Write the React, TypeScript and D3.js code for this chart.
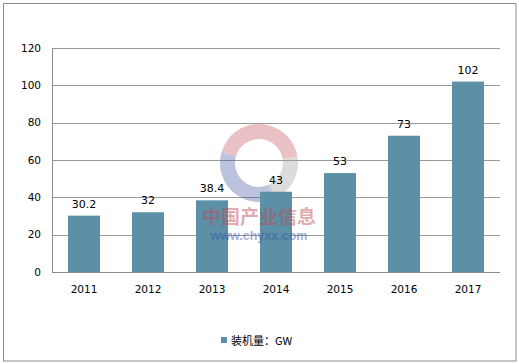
import React from "react";
import * as d3 from "d3";

const years = ["2011", "2012", "2013", "2014", "2015", "2016", "2017"];
const capacity = [30.2, 32, 38.4, 43, 53, 73, 102];
const valueLabels = ["30.2", "32", "38.4", "43", "53", "73", "102"];
const yTicks = [0, 20, 40, 60, 80, 100, 120];
const legendLabel = "装机量：GW";

const W = 519;
const H = 364;
const plot = { left: 52, right: 500, top: 48, bottom: 272 };
const barColor = "#5B90A6";
const font = "'DejaVu Sans', Verdana, sans-serif";

export default function App() {
  const x = d3.scaleBand().domain(years).range([plot.left, plot.right]).paddingInner(0.5).paddingOuter(0.25);
  const y = d3.scaleLinear().domain([0, 120]).range([plot.bottom, plot.top]);
  const ringArc = d3.arc();
  const cx = 259, cy = 163;
  return (
    <svg width={W} height={H} style={{ position: "absolute", left: 0, top: 0 }}>
      <rect x={0} y={0} width={W} height={H} fill="#fff" />
      <rect x={3.5} y={3.5} width={512.5} height={357.5} fill="none" stroke="#8c8c8c" strokeWidth={1} />
      {yTicks.map((t) => (
        <g key={t}>
          {t > 0 && (
            <line x1={plot.left} x2={plot.right} y1={Math.round(y(t)) + 0.5} y2={Math.round(y(t)) + 0.5} stroke="#9a9a9a" strokeWidth={1} />
          )}
          <text x={41} y={y(t)} dy="0.35em" textAnchor="end" fontFamily={font} fontSize={10.5} fill="#000">
            {t}
          </text>
        </g>
      ))}
      {/* watermark */}
      <g opacity={0.45}>
        <path d={ringArc({ innerRadius: 24, outerRadius: 39, startAngle: -1.3, endAngle: 1.4 }) as string} transform={`translate(${cx},${cy})`} fill="#c0464f" opacity={0.75} />
        <path d={ringArc({ innerRadius: 24, outerRadius: 39, startAngle: -3.6, endAngle: -1.3 }) as string} transform={`translate(${cx},${cy})`} fill="#3a4fa0" opacity={0.75} />
        <path d={ringArc({ innerRadius: 24, outerRadius: 39, startAngle: 1.4, endAngle: 2.8 }) as string} transform={`translate(${cx},${cy})`} fill="#9a9a9a" opacity={0.75} />
      </g>
      {years.map((yr, i) => (
        <g key={yr}>
          <rect x={x(yr)} y={y(capacity[i])} width={x.bandwidth()} height={plot.bottom - y(capacity[i])} fill={barColor} />
          <text x={(x(yr) as number) + x.bandwidth() / 2} y={y(capacity[i]) - 8} textAnchor="middle" fontFamily={font} fontSize={11} fill="#000">
            {valueLabels[i]}
          </text>
          <text x={(x(yr) as number) + x.bandwidth() / 2} y={293} textAnchor="middle" fontFamily={font} fontSize={10.5} fill="#000">
            {yr}
          </text>
        </g>
      ))}
      <g opacity={0.45}>
        <text x={259} y={224} textAnchor="middle" fontFamily="'Noto Sans CJK SC', sans-serif" fontWeight="bold" fontSize={19} fill="#c0464f">
          中国产业信息
        </text>
        <text x={259} y={240} textAnchor="middle" fontFamily="Arial, 'Liberation Sans', sans-serif" fontWeight="bold" fontSize={12.5} fill="#3a4fa0">
          www.chyxx.com
        </text>
      </g>
      <line x1={plot.left + 0.5} x2={plot.left + 0.5} y1={plot.top} y2={plot.bottom} stroke="#8c8c8c" />
      <line x1={plot.left} x2={plot.right} y1={plot.bottom + 0.5} y2={plot.bottom + 0.5} stroke="#8c8c8c" />
      <rect x={221} y={337} width={6} height={6} fill={barColor} />
      <text x={231} y={344.5} fontFamily="'Noto Sans CJK SC', sans-serif" fontSize={11} fill="#000">
        {legendLabel}
      </text>
    </svg>
  );
}
